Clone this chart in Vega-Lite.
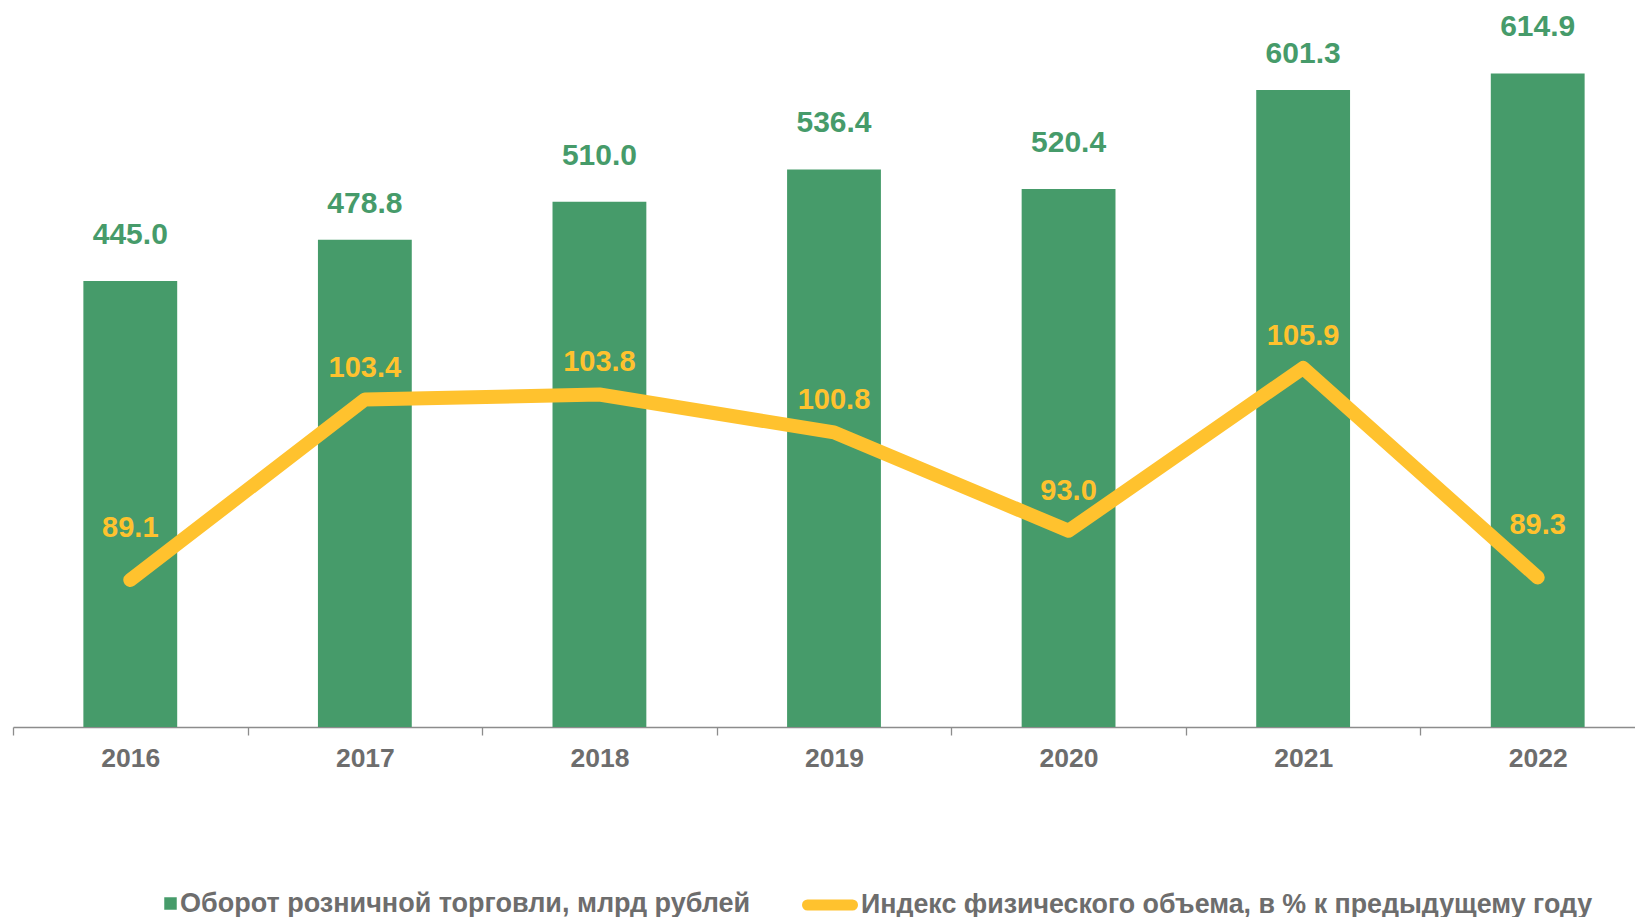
{
  "$schema": "https://vega.github.io/schema/vega-lite/v6.json",
  "autosize": {"type": "none"},
  "width": 1622,
  "height": 727,
  "padding": {"left": 13, "top": 0, "right": 0, "bottom": 190},
  "background": "white",
  "config": {
    "view": {"stroke": null},
    "font": "Liberation Sans",
    "axis": {"grid": false}
  },
  "data": {
    "values": [
      {"year": "2016", "turnover": 445.0, "index": 89.1},
      {"year": "2017", "turnover": 478.8, "index": 103.4},
      {"year": "2018", "turnover": 510.0, "index": 103.8},
      {"year": "2019", "turnover": 536.4, "index": 100.8},
      {"year": "2020", "turnover": 520.4, "index": 93.0},
      {"year": "2021", "turnover": 601.3, "index": 105.9},
      {"year": "2022", "turnover": 614.9, "index": 89.3}
    ]
  },
  "encoding": {
    "x": {
      "field": "year",
      "type": "ordinal",
      "scale": {"type": "band", "paddingInner": 0.6, "paddingOuter": 0.3, "range": [0, 1642]},
      "axis": {
        "title": null,
        "labelAngle": 0,
        "labelFont": "Liberation Sans",
        "labelFontSize": 26.5,
        "labelFontWeight": "bold",
        "labelColor": "#6d6d6d",
        "labelPadding": 10,
        "domainColor": "#8c8c8c",
        "domainWidth": 1.3,
        "tickColor": "#8c8c8c",
        "tickWidth": 1.3,
        "tickSize": 8,
        "tickOffset": -117.3,
        "labelOffset": 117.3
      }
    }
  },
  "layer": [
    {
      "encoding": {
        "y": {"field": "turnover", "type": "quantitative", "scale": {"domain": [80.2, 675], "zero": false, "nice": false}, "axis": null}
      },
      "layer": [
        {
          "mark": {"type": "bar"},
          "encoding": {
            "y2": {"datum": 80.2},
            "fill": {
              "datum": "Оборот розничной торговли, млрд рублей",
              "type": "nominal",
              "scale": {"range": ["#469B6A"]},
              "legend": {
                "title": null,
                "orient": "none",
                "legendX": 144,
                "legendY": 890,
                "symbolType": "square",
                "symbolSize": 156,
                "symbolStrokeWidth": 0,
                "labelFont": "Liberation Sans",
                "labelFontSize": 27,
                "labelFontWeight": "bold",
                "labelColor": "#6d6d6d",
                "labelOffset": -4,
                "labelLimit": 1000
              }
            }
          }
        },
        {
          "transform": [{"filter": {"field": "year", "oneOf": ["2017", "2021"]}}],
          "mark": {"type": "text", "dy": -27, "baseline": "alphabetic", "font": "Liberation Sans", "fontSize": 30, "fontWeight": "bold", "color": "#469B6A"},
          "encoding": {"text": {"field": "turnover", "type": "quantitative", "format": ".1f"}}
        },
        {
          "transform": [{"filter": {"not": {"field": "year", "oneOf": ["2017", "2021"]}}}],
          "mark": {"type": "text", "dy": -37, "baseline": "alphabetic", "font": "Liberation Sans", "fontSize": 30, "fontWeight": "bold", "color": "#469B6A"},
          "encoding": {"text": {"field": "turnover", "type": "quantitative", "format": ".1f"}}
        }
      ]
    },
    {
      "encoding": {
        "y": {"field": "index", "type": "quantitative", "scale": {"domain": [77.45, 135.06], "zero": false, "nice": false}, "axis": null}
      },
      "layer": [
        {
          "mark": {"type": "line", "strokeWidth": 14, "strokeCap": "round", "strokeJoin": "round"},
          "encoding": {
            "stroke": {
              "datum": "Индекс физического объема, в % к предыдущему году",
              "type": "nominal",
              "scale": {"range": ["#FFC22E"]},
              "legend": {
                "title": null,
                "orient": "none",
                "legendX": 789,
                "legendY": 877,
                "symbolType": "stroke",
                "symbolSize": 2025,
                "symbolStrokeWidth": 11,
                "symbolStrokeColor": "#FFC22E",
                "labelFont": "Liberation Sans",
                "labelFontSize": 26.8,
                "labelFontWeight": "bold",
                "labelColor": "#6d6d6d",
                "labelOffset": 3,
                "labelLimit": 1000,
                "encode": {"symbols": {"update": {"strokeCap": {"value": "round"}}}}
              }
            }
          }
        },
        {
          "transform": [{"filter": "datum.index > 100"}],
          "mark": {"type": "text", "dy": -23, "baseline": "alphabetic", "font": "Liberation Sans", "fontSize": 29, "fontWeight": "bold", "color": "#FFC22E"},
          "encoding": {"text": {"field": "index", "type": "quantitative", "format": ".1f"}}
        },
        {
          "transform": [{"filter": "datum.index > 91 && datum.index < 100"}],
          "mark": {"type": "text", "dy": -31, "baseline": "alphabetic", "font": "Liberation Sans", "fontSize": 29, "fontWeight": "bold", "color": "#FFC22E"},
          "encoding": {"text": {"field": "index", "type": "quantitative", "format": ".1f"}}
        },
        {
          "transform": [{"filter": "datum.index < 91"}],
          "mark": {"type": "text", "dy": -43, "baseline": "alphabetic", "font": "Liberation Sans", "fontSize": 29, "fontWeight": "bold", "color": "#FFC22E"},
          "encoding": {"text": {"field": "index", "type": "quantitative", "format": ".1f"}}
        }
      ]
    }
  ],
  "resolve": {"scale": {"y": "independent"}}
}
